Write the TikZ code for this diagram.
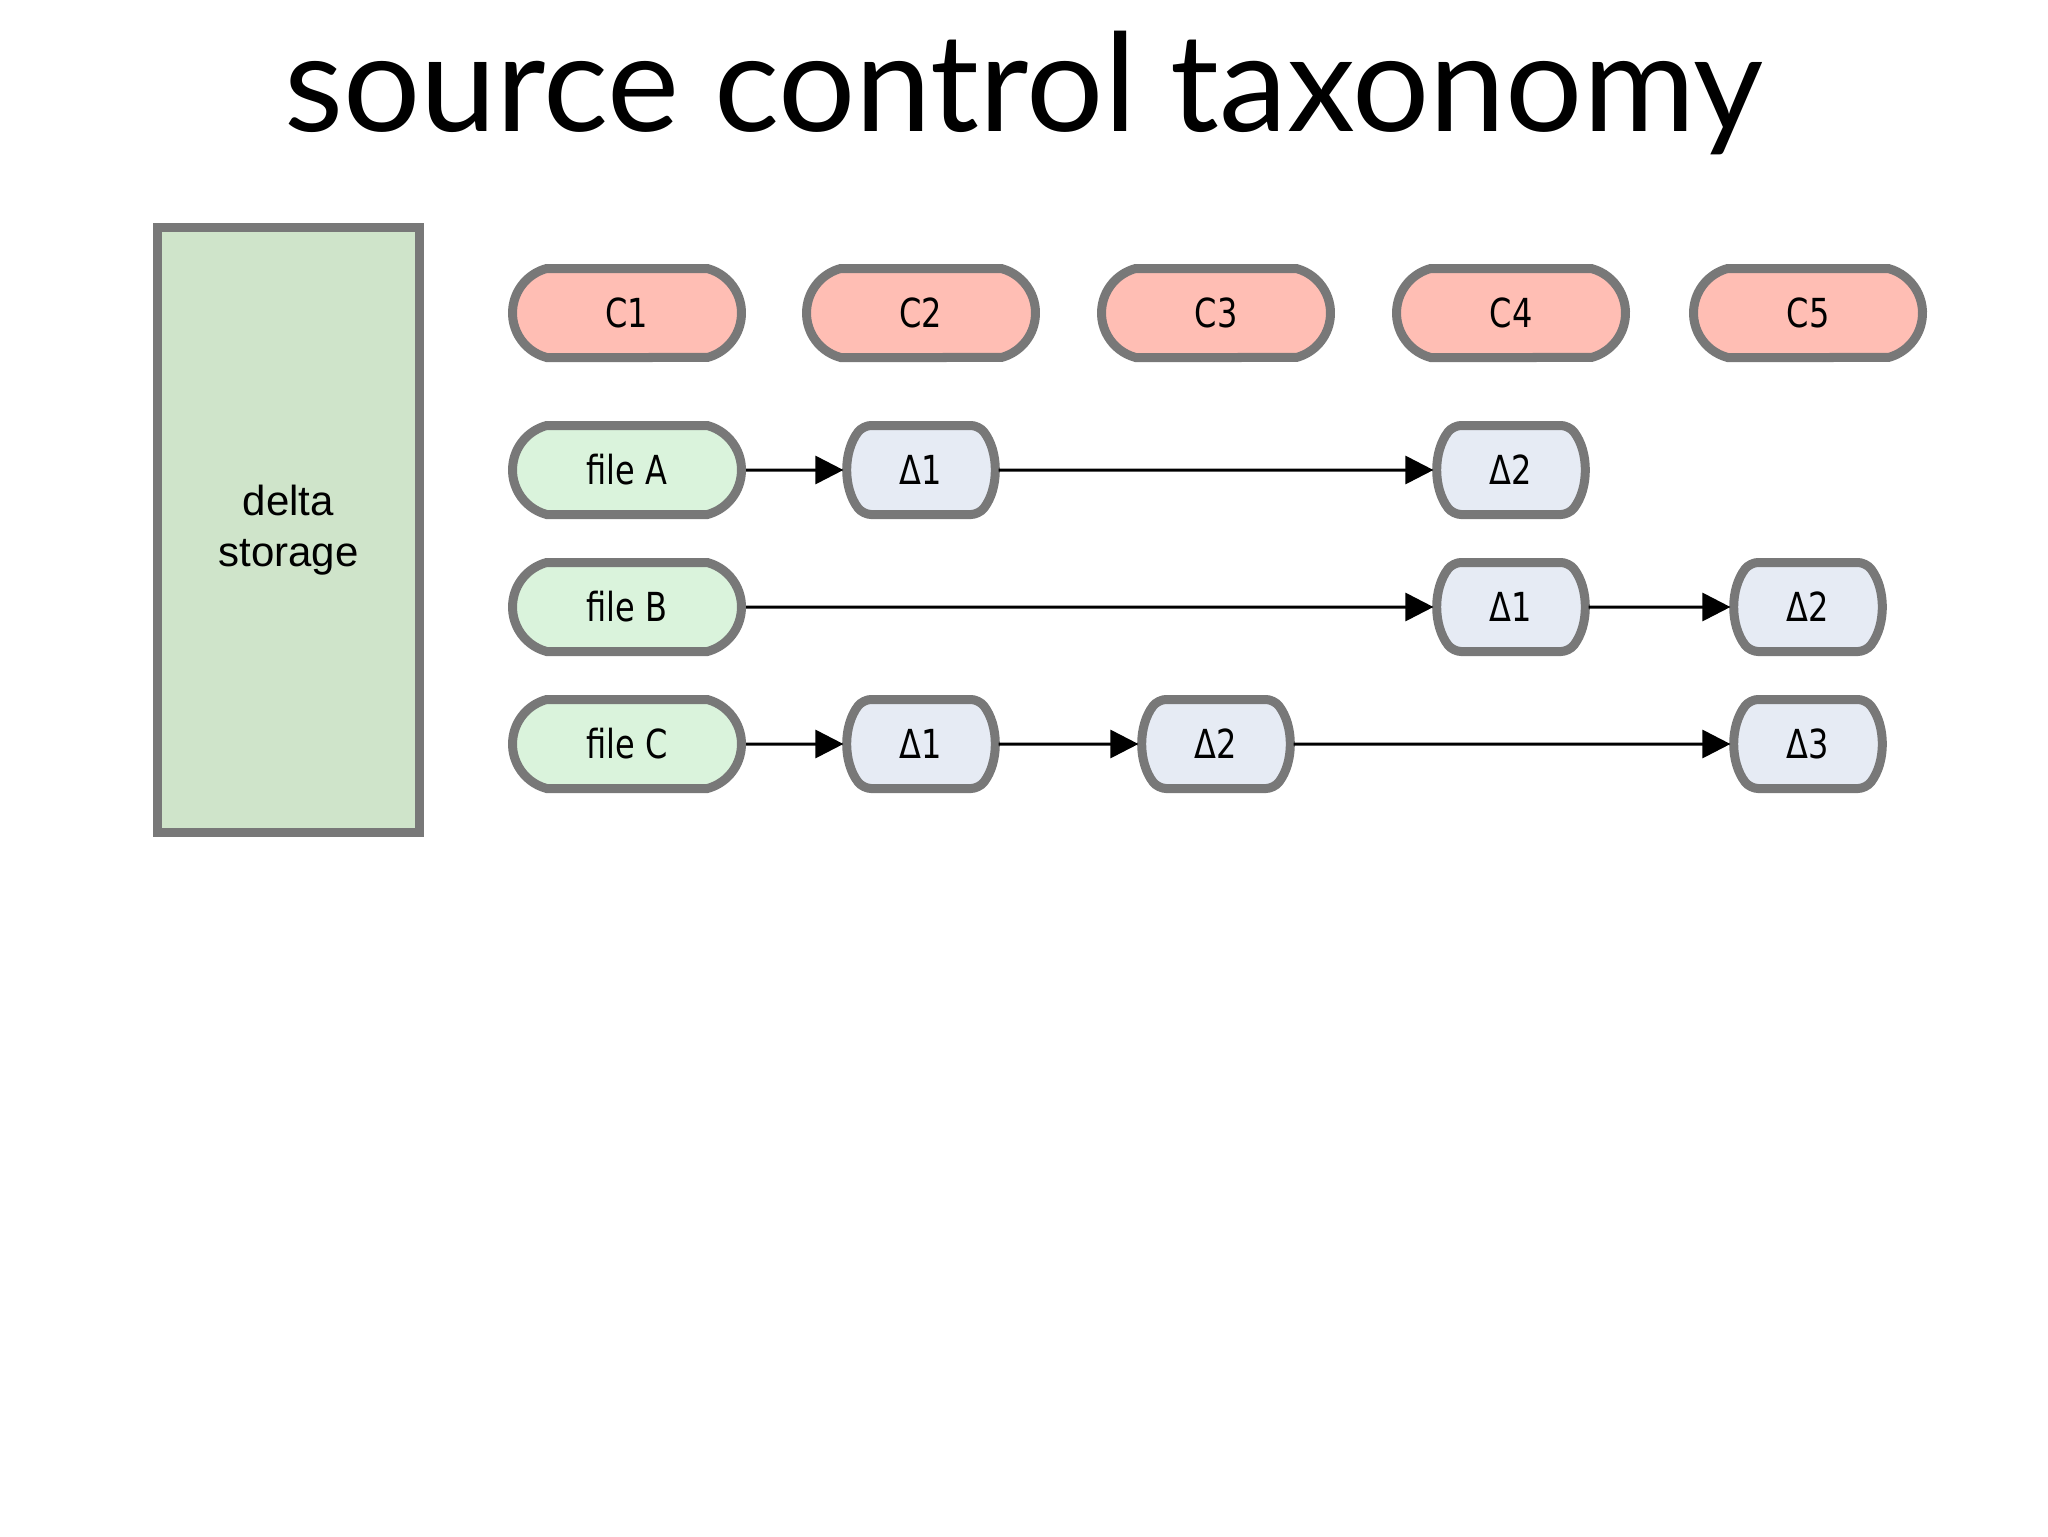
\documentclass[tikz,border=0pt]{standalone}
\usepackage{fontspec}
\usepackage{tikz}
\usetikzlibrary{shapes.misc,arrows.meta}
\setmainfont{DejaVu Sans}
\newfontfamily\titlefont{Lato}
\newfontfamily\boxfont{Liberation Sans}
\newfontfamily\labelfont[FakeStretch=0.8]{DejaVu Sans}
\definecolor{edgegray}{HTML}{787878}
\definecolor{commitred}{HTML}{FFBEB4}
\definecolor{filegreen}{HTML}{DAF3DC}
\definecolor{deltablue}{HTML}{E6EBF4}
\definecolor{storegreen}{HTML}{CFE4CA}

\begin{document}
\begin{tikzpicture}[x=0.5pt,y=-0.5pt,
    nodebase/.style={rounded rectangle, draw=edgegray, line width=4.5pt,
        minimum height=44.5pt, inner sep=0pt,
        font=\labelfont\fontsize{20}{24}\selectfont},
    commitbox/.style={nodebase, rounded rectangle arc length=150,
        minimum width=114.5pt, fill=commitred},
    filebox/.style={commitbox, fill=filegreen},
    deltabox/.style={nodebase, rounded rectangle arc length=75,
        rounded corners=4pt, minimum width=67.5pt, fill=deltablue},
    storebox/.style={rectangle, draw=edgegray, line width=4.5pt, fill=storegreen,
        minimum width=131pt, minimum height=302.5pt, align=center,
        font=\boxfont\fontsize{21}{25.5}\selectfont},
    link/.style={-{Triangle[length=14pt,width=14pt]}, line width=1.5pt}]
    \useasboundingbox (0,0) rectangle (2048,1536);

    % title
    \node (title) [anchor=base, inner sep=0pt] at (1024,131)
        {\resizebox{739pt}{!}{\titlefont source control taxonomy}};

    % storage
    \node (store) [storebox] at (288.5,530) {delta\\storage};

    % commits
    \node (c1) [commitbox] at (627,313) {C1};
    \node (c2) [commitbox] at (921,313) {C2};
    \node (c3) [commitbox] at (1216,313) {C3};
    \node (c4) [commitbox] at (1511,313) {C4};
    \node (c5) [commitbox] at (1808,313) {C5};

    % files
    \node (fa) [filebox] at (627,470) {file A};
    \node (fb) [filebox] at (627,607) {file B};
    \node (fc) [filebox] at (627,744) {file C};

    % deltas
    \node (a1) [deltabox] at (921,470) {Δ1};
    \node (a2) [deltabox] at (1511,470) {Δ2};
    \node (b1) [deltabox] at (1511,607) {Δ1};
    \node (b2) [deltabox] at (1808,607) {Δ2};
    \node (k1) [deltabox] at (921,744) {Δ1};
    \node (k2) [deltabox] at (1216,744) {Δ2};
    \node (k3) [deltabox] at (1808,744) {Δ3};

    \draw[link] (fa) -- (a1);
    \draw[link] (a1) -- (a2);
    \draw[link] (fb) -- (b1);
    \draw[link] (b1) -- (b2);
    \draw[link] (fc) -- (k1);
    \draw[link] (k1) -- (k2);
    \draw[link] (k2) -- (k3);
\end{tikzpicture}
\end{document}
